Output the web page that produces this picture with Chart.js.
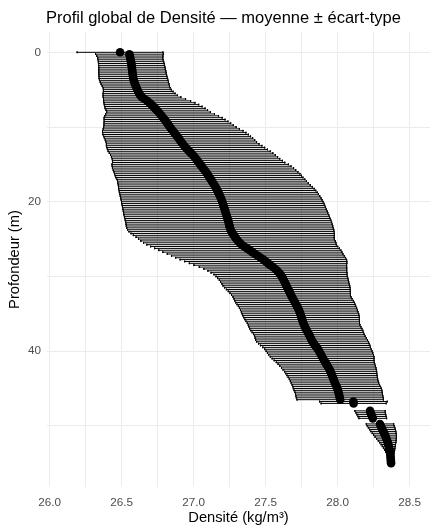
<!DOCTYPE html>
<html>
<head>
<meta charset="utf-8">
<script src="https://cdn.jsdelivr.net/npm/chart.js@4.4.1/dist/chart.umd.min.js"></script>
<style>
html,body{margin:0;padding:0;background:#fff}
</style>
</head>
<body>
<canvas id="chart" width="436" height="532"></canvas>
<script>
const titleText = "Profil global de Densité — moyenne ± écart-type"
const xTitle = "Densité (kg/m³)"
const yTitle = "Profondeur (m)"

// profondeur (m)
const depth = [
0,0.25,0.5,0.75,1,1.25,1.5,1.75,2,2.25,
2.5,2.75,3,3.25,3.5,3.75,4,4.25,4.5,4.75,
5,5.25,5.5,5.75,6,6.25,6.5,6.75,7,7.25,
7.5,7.75,8,8.25,8.5,8.75,9,9.25,9.5,9.75,
10,10.25,10.5,10.75,11,11.25,11.5,11.75,12,12.25,
12.5,12.75,13,13.25,13.5,13.75,14,14.25,14.5,14.75,
15,15.25,15.5,15.75,16,16.25,16.5,16.75,17,17.25,
17.5,17.75,18,18.25,18.5,18.75,19,19.25,19.5,19.75,
20,20.25,20.5,20.75,21,21.25,21.5,21.75,22,22.25,
22.5,22.75,23,23.25,23.5,23.75,24,24.25,24.5,24.75,
25,25.25,25.5,25.75,26,26.25,26.5,26.75,27,27.25,
27.5,27.75,28,28.25,28.5,28.75,29,29.25,29.5,29.75,
30,30.25,30.5,30.75,31,31.25,31.5,31.75,32,32.25,
32.5,32.75,33,33.25,33.5,33.75,34,34.25,34.5,34.75,
35,35.25,35.5,35.75,36,36.25,36.5,36.75,37,37.25,
37.5,37.75,38,38.25,38.5,38.75,39,39.25,39.5,39.75,
40,40.25,40.5,40.75,41,41.25,41.5,41.75,42,42.25,
42.5,42.75,43,43.25,43.5,43.75,44,44.25,44.5,44.75,
45,45.25,45.5,45.75,46,46.25,46.5,46.75,47,
48,48.25,48.5,48.75,49,
49.75,50,50.25,50.5,50.75,51,51.25,51.5,51.75,52,
52.25,52.5,52.75,53,53.25,53.5,53.75,54,54.25,54.5,
54.75,55
]

// densité moyenne (kg/m3)
const meanDens = [
26.490,26.555,26.558,26.561,26.563,26.566,26.568,26.570,26.572,26.573,
26.575,26.576,26.578,26.580,26.582,26.585,26.589,26.594,26.599,26.605,
26.610,26.616,26.622,26.630,26.642,26.660,26.678,26.694,26.708,26.721,
26.733,26.745,26.757,26.768,26.779,26.789,26.799,26.809,26.818,26.827,
26.836,26.846,26.856,26.866,26.876,26.886,26.896,26.906,26.915,26.925,
26.935,26.946,26.958,26.970,26.983,26.996,27.007,27.017,27.027,27.036,
27.046,27.056,27.066,27.076,27.086,27.095,27.103,27.110,27.120,27.128,
27.136,27.144,27.152,27.159,27.166,27.172,27.178,27.184,27.190,27.195,
27.200,27.204,27.208,27.212,27.216,27.220,27.224,27.228,27.232,27.236,
27.240,27.244,27.247,27.250,27.253,27.258,27.264,27.272,27.280,27.289,
27.298,27.309,27.321,27.334,27.352,27.372,27.391,27.409,27.428,27.447,
27.466,27.485,27.502,27.518,27.533,27.552,27.568,27.582,27.594,27.604,
27.612,27.620,27.627,27.633,27.639,27.645,27.651,27.658,27.665,27.671,
27.677,27.684,27.691,27.698,27.705,27.712,27.719,27.726,27.732,27.737,
27.742,27.746,27.750,27.754,27.758,27.763,27.768,27.774,27.780,27.787,
27.794,27.801,27.808,27.814,27.820,27.827,27.836,27.845,27.855,27.864,
27.872,27.879,27.886,27.893,27.900,27.907,27.915,27.923,27.931,27.939,
27.946,27.952,27.957,27.962,27.967,27.972,27.977,27.982,27.988,27.994,
27.999,28.003,28.007,28.010,28.013,28.016,28.019,28.110,28.112,
28.226,28.230,28.235,28.240,28.245,
28.295,28.300,28.306,28.312,28.318,28.324,28.330,28.335,28.340,28.345,
28.349,28.353,28.356,28.359,28.362,28.364,28.366,28.368,28.369,28.370,
28.371,28.372
]

// écart-type
const sdDens = [
0.298,0.235,0.230,0.226,0.226,0.227,0.228,0.229,0.230,0.231,
0.233,0.234,0.235,0.236,0.238,0.238,0.237,0.236,0.234,0.233,
0.236,0.242,0.250,0.258,0.270,0.285,0.302,0.316,0.328,0.338,
0.347,0.353,0.360,0.378,0.395,0.410,0.420,0.430,0.440,0.449,
0.460,0.473,0.488,0.498,0.505,0.510,0.515,0.519,0.523,0.530,
0.540,0.548,0.556,0.563,0.568,0.572,0.577,0.582,0.590,0.598,
0.613,0.621,0.629,0.634,0.639,0.644,0.647,0.650,0.653,0.656,
0.661,0.667,0.673,0.679,0.683,0.687,0.690,0.693,0.696,0.698,
0.700,0.702,0.703,0.705,0.706,0.708,0.709,0.711,0.712,0.713,
0.714,0.715,0.716,0.717,0.717,0.716,0.712,0.706,0.698,0.688,
0.680,0.675,0.668,0.658,0.650,0.642,0.632,0.622,0.610,0.600,
0.590,0.578,0.563,0.547,0.530,0.512,0.496,0.482,0.472,0.462,
0.456,0.452,0.448,0.445,0.442,0.440,0.436,0.430,0.424,0.418,
0.413,0.410,0.410,0.412,0.413,0.410,0.408,0.407,0.406,0.405,
0.405,0.404,0.402,0.398,0.394,0.390,0.388,0.389,0.390,0.389,
0.387,0.384,0.384,0.386,0.388,0.388,0.384,0.380,0.374,0.370,
0.368,0.366,0.364,0.360,0.354,0.347,0.340,0.336,0.332,0.328,
0.324,0.320,0.316,0.313,0.310,0.307,0.305,0.304,0.304,0.305,
0.306,0.305,0.303,0.302,0.302,0.302,0.300,0.235,0.226,
0.105,0.102,0.100,0.098,0.096,
0.095,0.094,0.092,0.090,0.087,0.083,0.079,0.074,0.068,0.062,
0.056,0.050,0.045,0.040,0.035,0.030,0.025,0.020,0.016,0.012,
0.008,0.005
]

const xMin = 25.9826, xMax = 28.6423
const yMin = -2.72, yMax = 58.19
const capH = 0.11

const font = '"Liberation Sans", Arial, sans-serif'

const points = depth.map((d,i)=>({x:meanDens[i], y:d}))

// barres d'erreur horizontales (moyenne ± écart-type) avec petites barres verticales aux extrémités
const bars = []
depth.forEach((d,i)=>{
const lo = meanDens[i]-sdDens[i]
const hi = meanDens[i]+sdDens[i]
bars.push({x:lo,y:d},{x:hi,y:d},{x:null,y:null})
bars.push({x:lo,y:d-capH},{x:lo,y:d+capH},{x:null,y:null})
bars.push({x:hi,y:d-capH},{x:hi,y:d+capH},{x:null,y:null})
})

const titlePlugin = {
id:"plotTitle",
afterDraw(chart){
const ctx = chart.ctx
ctx.save()
ctx.font = "16.5px " + font
ctx.fillStyle = "#000"
ctx.textBaseline = "alphabetic"
ctx.textAlign = "left"
ctx.fillText(titleText, chart.chartArea.left - 1, 22.5)
ctx.restore()
}
}

new Chart(document.getElementById("chart"), {
type:"scatter",
data:{
datasets:[
{
label:"moyenne",
data:points,
pointRadius:4.3,
pointHoverRadius:4.3,
pointBackgroundColor:"#000",
pointBorderWidth:0,
showLine:false
},
{
label:"écart-type",
data:bars,
showLine:true,
pointRadius:0,
pointHoverRadius:0,
borderColor:"#000",
borderWidth:1,
tension:0,
spanGaps:false
}
]
},
options:{
responsive:false,
animation:false,
events:[],
layout:{padding:{top:32,right:6,left:0,bottom:0}},
plugins:{legend:{display:false},tooltip:{enabled:false},title:{display:false}},
scales:{
x:{
type:"linear",
min:xMin,
max:xMax,
afterFit(s){ s.height = 45 },
border:{display:false},
grid:{color:"#ebebeb",lineWidth:1,drawTicks:false},
ticks:{
stepSize:0.25,
includeBounds:false,
autoSkip:false,
maxRotation:0,
padding:9,
color:"#4d4d4d",
font:{family:font,size:11.7},
callback:v=>Math.abs(v*2-Math.round(v*2))<1e-6 ? v.toFixed(1) : ""
},
title:{display:true,text:xTitle,color:"#000",font:{family:font,size:14.7},padding:{top:0,bottom:5}}
},
y:{
type:"linear",
reverse:true,
min:yMin,
max:yMax,
afterFit(s){ s.width = 47 },
border:{display:false},
grid:{color:"#ebebeb",lineWidth:1,drawTicks:false},
ticks:{
stepSize:10,
includeBounds:false,
autoSkip:false,
padding:6,
color:"#4d4d4d",
font:{family:font,size:11.7},
callback:v=>v%20===0 ? String(v) : ""
},
title:{display:true,text:yTitle,color:"#000",font:{family:font,size:14.7},padding:{top:6,bottom:0}}
}
}
},
plugins:[titlePlugin]
})
</script>
</body>
</html>
